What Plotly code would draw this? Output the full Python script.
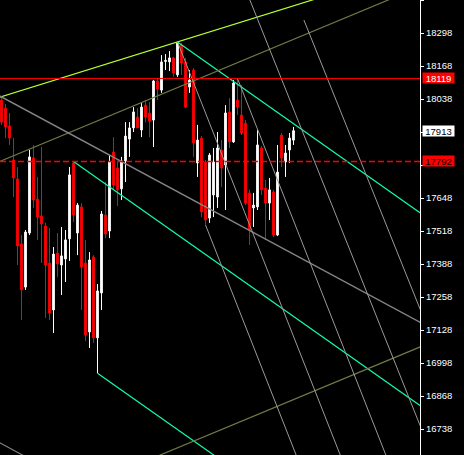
import plotly.graph_objects as go

# ---- candle data (index, open, high, low, close) ----
idx = list(range(74))
opens = [18034, 18002, 17932, 17798, 17723, 17467, 17297, 17510, 17806, 17644,
         17577, 17538, 17392, 17207, 17431, 17384, 17408, 17487, 17786, 17510,
         17613, 17392, 17120, 17416, 17097, 17274, 17581, 17518, 17829, 17766,
         17684, 17794, 17880, 17924, 17967, 17916, 18014, 17983, 17955, 18109,
         18073, 18186, 18184, 18200, 18133, 18251, 18184, 18085, 18152, 17786,
         17884, 17790, 17569, 17660, 17652, 17837, 17778, 17987, 17869, 18034,
         17975, 17943, 17668, 17609, 17613, 17845, 17687, 17628, 17672, 17502,
         17896, 17790, 17837, 17876]
highs = [18046, 18018, 17983, 17884, 17770, 17502, 17522, 17837, 17857, 17731,
         17849, 17550, 17530, 17455, 17510, 17534, 17522, 17770, 17792, 17628,
         17628, 17483, 17435, 17423, 17309, 17597, 17711, 17817, 17888, 17790,
         17810, 17947, 17947, 18006, 18002, 18022, 18034, 18026, 18113, 18121,
         18211, 18215, 18227, 18204, 18263, 18259, 18200, 18152, 18160, 17936,
         17892, 17798, 17825, 17845, 17908, 17876, 18014, 18042, 18113, 18119,
         18093, 17955, 17680, 17668, 17916, 17853, 17719, 17727, 17680, 17857,
         17904, 17857, 17904, 17928]
lows = [17936, 17884, 17857, 17652, 17384, 17167, 17286, 17502, 17609, 17483,
        17392, 17175, 17167, 17116, 17337, 17266, 17317, 17400, 17553, 17423,
        17207, 17085, 17057, 17077, 16958, 17207, 17490, 17490, 17680, 17616,
        17640, 17711, 17810, 17908, 17947, 17888, 17947, 17888, 17849, 18034,
        18062, 18152, 18148, 18125, 18125, 18133, 18002, 18062, 17810, 17731,
        17573, 17542, 17550, 17573, 17609, 17691, 17601, 17845, 17865, 17975,
        17896, 17620, 17463, 17534, 17601, 17660, 17483, 17561, 17494, 17498,
        17770, 17731, 17786, 17857]
closes = [17947, 17928, 17884, 17727, 17459, 17286, 17514, 17810, 17640, 17573,
          17546, 17384, 17195, 17427, 17388, 17420, 17483, 17739, 17581, 17620,
          17376, 17108, 17404, 17097, 17282, 17585, 17506, 17790, 17699, 17680,
          17794, 17892, 17924, 17987, 17924, 18006, 17967, 17951, 18109, 18077,
          18184, 18190, 18200, 18140, 18259, 18180, 18006, 18113, 17865, 17876,
          17593, 17561, 17817, 17790, 17845, 17766, 17983, 17869, 18101, 18006,
          17904, 17628, 17522, 17620, 17857, 17680, 17628, 17680, 17502, 17750,
          17805, 17825, 17884, 17913]

# ---- axis ticks (17908 / 17778 sit under the price boxes) ----
tick_vals = [18428, 18298, 18168, 18038, 17908, 17778, 17648, 17518,
             17388, 17258, 17128, 16998, 16868, 16738]
tick_text = ["18428", "18298", "18168", "18038", "", "", "17648", "17518",
             "17388", "17258", "17128", "16998", "16868", "16738"]
y_range = [16635.6, 18428]
x_range = [-0.375, 104.625]

# ---- price levels ----
level_solid = 18119
level_dashed = 17792
last_price = 17913

# ---- drawn lines: (anchor index, anchor price, slope per bar, start, end, color, width)
lines = [
    (44, 18263, 4.9, -1, 110, "#b4ff30", 1.2),    # upper trend line
    (44, 18263, -11.1, 44, 110, "#10ffa8", 1.2),  # channel 1
    (18, 17792, -11.1, 18, 110, "#10ffa8", 1.2),  # channel 2
    (24, 16958, -11.1, 24, 110, "#10ffa8", 1.2),  # channel 3
    (37.125, 18038, 6.55, -1, 110, "#6d7a45", 1.2), # olive 1
    (104.625, 17061, 6.55, -1, 110, "#6d7a45", 1.2),# olive 2
    (0, 18046, -8.48, -1, 110, "#858585", 1.4),   # grey 1
    (-0.375, 16683, -8.48, -1, 110, "#858585", 1.1),# grey 2
    (51, 17542, -40.0, 51, 110, "#9a9a9a", 1),    # steep a
    (44, 18263, -40.0, 44, 110, "#9a9a9a", 1),    # steep b
    (59, 18119, -40.0, 59, 110, "#9a9a9a", 1),    # steep c
    (62.1, 18428, -39.4, 55, 110, "#9a9a9a", 1),  # steep d
    (75.6, 18349, -39.2, 75.6, 110, "#9a9a9a", 1),# steep e
]

fig = go.Figure()

for (ax, ay, s, x0, x1, col, w) in lines:
    fig.add_trace(go.Scatter(
        x=[x0, x1], y=[ay + s * (x0 - ax), ay + s * (x1 - ax)],
        mode="lines", line=dict(color=col, width=w),
        hoverinfo="skip", showlegend=False))

fig.add_trace(go.Scatter(x=[x_range[0], x_range[1]], y=[level_solid, level_solid],
                         mode="lines", line=dict(color="#ff0000", width=1),
                         hoverinfo="skip", showlegend=False))
fig.add_trace(go.Scatter(x=[x_range[0], x_range[1]], y=[level_dashed, level_dashed],
                         mode="lines", line=dict(color="#ff0000", width=1.4, dash="6px,3px"),
                         hoverinfo="skip", showlegend=False))

fig.add_trace(go.Candlestick(
    x=idx, open=opens, high=highs, low=lows, close=closes,
    increasing=dict(line=dict(color="#ffffff", width=1), fillcolor="#ffffff"),
    decreasing=dict(line=dict(color="#ff0000", width=1), fillcolor="#ff0000"),
    whiskerwidth=0, hoverinfo="skip", showlegend=False))

annots = [
    (level_solid, "#ff0000", "#ffffff"),
    (last_price, "#ffffff", "#000000"),
    (level_dashed, "#ff0000", "#000000"),
]
for (yv, bg, fc) in annots:
    fig.add_annotation(x=1, xref="paper", y=yv, yref="y", xanchor="left",
                       yanchor="middle", xshift=2, text=str(yv), showarrow=False,
                       bgcolor=bg, borderpad=0, width=31, height=10,
                       font=dict(family="Liberation Sans", size=9.5, color=fc))

fig.update_layout(
    width=464, height=455,
    margin=dict(l=0, r=44, t=0, b=0, pad=0, autoexpand=False),
    paper_bgcolor="#000000", plot_bgcolor="#000000",
    boxgap=0.38,
    showlegend=False,
    xaxis=dict(range=x_range, visible=False, rangeslider=dict(visible=False),
               showgrid=False, zeroline=False, fixedrange=True, automargin=False),
    yaxis=dict(range=y_range, side="right", showgrid=False, zeroline=False,
               tickvals=tick_vals, ticktext=tick_text, ticks="outside",
               ticklen=3, tickcolor="#ffffff", tickwidth=1,
               showline=True, linecolor="#ffffff", linewidth=1,
               automargin=False,
               tickfont=dict(family="Liberation Sans", size=9.5, color="#ffffff"),
               fixedrange=True),
)

fig.write_html("out.html", config={"displayModeBar": False},
               post_script="document.body.style.margin='0';document.body.style.background='#000';")
